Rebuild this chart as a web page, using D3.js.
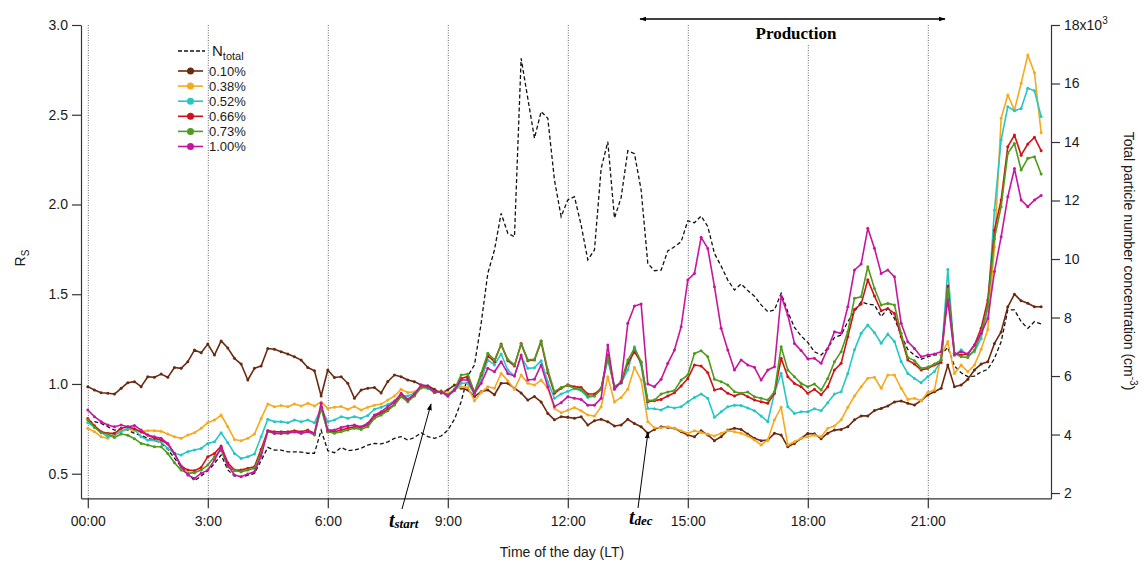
<!DOCTYPE html>
<html>
<head>
<meta charset="utf-8">
<script src="https://cdn.jsdelivr.net/npm/d3@7"></script>
<style>
  body { margin: 0; background: #fff; }
  svg { display: block; font-family: 'Liberation Sans', Arial, sans-serif; }
</style>
</head>
<body>
<svg id="chart" width="1146" height="563"></svg>
<script>
// samples every 10 minutes, 00:00 .. 23:50
const stepMin = 10;

const hourTicks = [0, 3, 6, 9, 12, 15, 18, 21];
const hourLabels = ['00:00', '3:00', '6:00', '9:00', '12:00', '15:00', '18:00', '21:00'];
const leftTicks = [0.5, 1.0, 1.5, 2.0, 2.5, 3.0];
const rightTicks = [2, 4, 6, 8, 10, 12, 14, 16, 18];

const seriesNames = ['0.10%', '0.38%', '0.52%', '0.66%', '0.73%', '1.00%'];
const seriesColors = ['#6b2a10', '#f7a91e', '#25c7c4', '#d0121b', '#4f9b1c', '#c6169f'];

// R_s, supersaturation 0.10 %
const r010 = [
  0.985, 0.966, 0.951, 0.948, 0.944, 0.976,
  1.007, 1.013, 0.985, 1.04, 1.037, 1.055,
  1.037, 1.092, 1.087, 1.124, 1.189, 1.174,
  1.222, 1.161, 1.24, 1.2, 1.143, 1.111,
  1.022, 1.087, 1.1, 1.198, 1.193, 1.18,
  1.167, 1.152, 1.133, 1.092, 1.074, 0.933,
  1.078, 1.036, 1.04, 1.004, 0.92, 0.966,
  0.976, 0.98, 0.95, 1.014, 1.05, 1.04,
  1.022, 1.013, 0.994, 0.99, 0.97, 0.95,
  0.967, 0.994, 0.976, 0.967, 0.93, 0.957,
  0.967, 0.94, 1.004, 1.004, 0.976, 0.95,
  0.91, 0.93, 0.9, 0.836, 0.8, 0.818,
  0.814, 0.809, 0.817, 0.771, 0.795, 0.803,
  0.79, 0.766, 0.771, 0.803, 0.78, 0.762,
  0.725, 0.747, 0.762, 0.758, 0.753, 0.734,
  0.716, 0.706, 0.74, 0.716, 0.684, 0.706,
  0.743, 0.753, 0.747, 0.721, 0.697, 0.684,
  0.688, 0.725, 0.716, 0.65, 0.669, 0.697,
  0.724, 0.722, 0.695, 0.726, 0.743, 0.747,
  0.762, 0.8, 0.822, 0.822, 0.852, 0.864,
  0.877, 0.9, 0.905, 0.892, 0.883, 0.907,
  0.939, 0.957, 0.976, 1.105, 0.985, 0.994,
  1.026, 1.078, 1.111, 1.124, 1.226, 1.29,
  1.43, 1.5, 1.463, 1.45, 1.43, 1.43
];

// 0.38 %
const r038 = [
  0.753, 0.734, 0.706, 0.697, 0.725, 0.74,
  0.749, 0.74, 0.736, 0.74, 0.74, 0.736,
  0.721, 0.706, 0.697, 0.715, 0.728, 0.753,
  0.784, 0.799, 0.827, 0.762, 0.691, 0.684,
  0.697, 0.721, 0.808, 0.888, 0.873, 0.88,
  0.873, 0.888, 0.877, 0.892, 0.877, 0.9,
  0.864, 0.87, 0.874, 0.859, 0.874, 0.855,
  0.87, 0.881, 0.888, 0.91, 0.933, 0.97,
  0.952, 0.957, 0.976, 0.981, 0.952, 0.963,
  0.944, 0.97, 0.985, 0.981, 0.907, 0.952,
  0.985, 0.976, 1.059, 1.018, 0.97, 1.05,
  1.004, 0.994, 1.022, 0.976, 0.864, 0.84,
  0.853, 0.869, 0.851, 0.827, 0.821, 0.873,
  1.04, 0.9, 0.925, 0.97, 1.093, 1.022,
  0.79, 0.756, 0.756, 0.762, 0.753, 0.74,
  0.725, 0.74, 0.729, 0.721, 0.71, 0.725,
  0.74, 0.734, 0.725, 0.71, 0.688, 0.66,
  0.688, 0.8, 0.87, 0.66, 0.678, 0.697,
  0.706, 0.714, 0.706, 0.753, 0.766, 0.8,
  0.87, 0.933, 0.985, 1.032, 1.037, 0.976,
  1.05, 1.05, 0.976, 0.914, 0.92, 0.907,
  0.952, 0.966, 1.161, 1.236, 1.059, 1.105,
  1.068, 1.105, 1.193, 1.304, 1.765, 2.48,
  2.61, 2.526, 2.675, 2.833, 2.734, 2.4
];

// 0.52 %
const r052 = [
  0.784, 0.762, 0.73, 0.706, 0.715, 0.734,
  0.753, 0.747, 0.706, 0.687, 0.687, 0.676,
  0.641, 0.613, 0.604, 0.623, 0.632, 0.641,
  0.669, 0.678, 0.728, 0.673, 0.613, 0.585,
  0.595, 0.61, 0.706, 0.803, 0.79, 0.79,
  0.784, 0.799, 0.79, 0.799, 0.784, 0.864,
  0.79, 0.799, 0.818, 0.809, 0.818, 0.809,
  0.825, 0.859, 0.87, 0.885, 0.907, 0.937,
  0.933, 0.948, 0.985, 0.974, 0.957, 0.957,
  0.933, 0.963, 1.004, 1.004, 0.944, 1.022,
  1.134, 1.106, 1.167, 1.078, 1.044, 1.152,
  1.087, 1.09, 1.13, 1.013, 0.92, 0.944,
  0.96, 0.973, 0.962, 0.925, 0.933, 0.975,
  1.133, 0.989, 1.004, 1.078, 1.208, 1.106,
  0.864, 0.862, 0.855, 0.873, 0.866, 0.873,
  0.9, 0.925, 0.944, 0.92, 0.814, 0.845,
  0.873, 0.882, 0.88, 0.866, 0.851, 0.821,
  0.79, 0.95, 1.06, 0.873, 0.836, 0.845,
  0.845, 0.862, 0.851, 0.896, 0.944, 0.957,
  1.059, 1.19, 1.282, 1.329, 1.286, 1.227,
  1.278, 1.236, 1.125, 1.059, 1.031, 1.007,
  1.041, 1.069, 1.133, 1.638, 1.161, 1.19,
  1.161, 1.18, 1.254, 1.43, 1.969, 2.36,
  2.545, 2.522, 2.535, 2.647, 2.634, 2.49
];

// 0.66 %
const r066 = [
  0.808, 0.767, 0.734, 0.725, 0.725, 0.753,
  0.762, 0.751, 0.732, 0.715, 0.697, 0.688,
  0.665, 0.613, 0.543, 0.52, 0.517, 0.535,
  0.595, 0.613, 0.654, 0.561, 0.52, 0.52,
  0.53, 0.539, 0.636, 0.74, 0.734, 0.734,
  0.734, 0.74, 0.734, 0.743, 0.725, 0.873,
  0.734, 0.734, 0.743, 0.753, 0.762, 0.758,
  0.771, 0.821, 0.836, 0.859, 0.888, 0.939,
  0.907, 0.939, 0.985, 0.985, 0.952, 0.957,
  0.939, 0.966, 1.031, 1.041, 0.952, 1.05,
  1.156, 1.124, 1.222, 1.13, 1.1, 1.226,
  1.13, 1.134, 1.236, 1.063, 0.948, 0.976,
  0.995, 0.985, 0.981, 0.944, 0.944, 0.975,
  1.161, 0.981, 1.007, 1.115, 1.18, 1.119,
  0.901, 0.907, 0.914, 0.933, 0.951, 0.989,
  1.031, 1.106, 1.1, 1.063, 0.966, 0.975,
  0.948, 0.933, 0.948, 0.929, 0.911, 0.901,
  0.892, 0.948, 1.143, 1.04, 1.003, 0.985,
  0.948, 0.97, 0.94, 0.985, 1.078, 1.115,
  1.263, 1.415, 1.445, 1.58, 1.49, 1.408,
  1.42, 1.393, 1.263, 1.133, 1.111, 1.078,
  1.087, 1.106, 1.119, 1.546, 1.171, 1.161,
  1.167, 1.217, 1.31, 1.468, 1.857, 2.025,
  2.322, 2.387, 2.275, 2.337, 2.374, 2.3
];

// 0.73 %
const r073 = [
  0.799, 0.758, 0.728, 0.721, 0.702, 0.721,
  0.714, 0.695, 0.669, 0.66, 0.65, 0.65,
  0.613, 0.561, 0.52, 0.502, 0.506, 0.52,
  0.548, 0.595, 0.632, 0.539, 0.517, 0.511,
  0.52, 0.53, 0.617, 0.734, 0.725, 0.725,
  0.725, 0.732, 0.725, 0.734, 0.715, 0.864,
  0.734, 0.725, 0.734, 0.743, 0.753, 0.747,
  0.762, 0.809, 0.827, 0.851, 0.883, 0.929,
  0.901, 0.933, 0.981, 0.981, 0.952, 0.957,
  0.937, 0.97, 1.05, 1.055, 0.952, 1.059,
  1.171, 1.134, 1.217, 1.137, 1.106, 1.222,
  1.134, 1.137, 1.241, 1.078, 0.957, 0.981,
  0.992, 0.976, 0.97, 0.933, 0.933, 0.97,
  1.152, 0.976, 1.013, 1.133, 1.198, 1.124,
  0.907, 0.91, 0.944, 0.955, 0.963, 1.022,
  1.05, 1.17, 1.185, 1.152, 1.026, 1.013,
  0.994, 0.957, 0.948, 0.955, 0.929, 0.92,
  0.911, 0.957, 1.208, 1.078, 1.04, 1.003,
  0.985, 1.0, 0.966, 1.031, 1.124, 1.18,
  1.291, 1.477, 1.486, 1.653, 1.532, 1.44,
  1.449, 1.44, 1.282, 1.148, 1.13, 1.087,
  1.093, 1.111, 1.133, 1.527, 1.171, 1.152,
  1.148, 1.189, 1.282, 1.43, 1.811, 1.988,
  2.285, 2.34, 2.192, 2.257, 2.266, 2.17
];

// 1.00 %
const r100 = [
  0.855, 0.818, 0.79, 0.771, 0.762, 0.771,
  0.762, 0.769, 0.743, 0.715, 0.706, 0.697,
  0.669, 0.613, 0.539, 0.493, 0.474, 0.502,
  0.52, 0.576, 0.647, 0.548, 0.493, 0.483,
  0.498, 0.511, 0.598, 0.74, 0.725, 0.725,
  0.728, 0.734, 0.725, 0.734, 0.725, 0.892,
  0.743, 0.743, 0.758, 0.766, 0.771, 0.762,
  0.781, 0.827, 0.845, 0.874, 0.901, 0.948,
  0.914, 0.944, 0.994, 0.985, 0.957, 0.957,
  0.933, 0.966, 1.022, 1.022, 0.948, 1.004,
  1.087, 1.068, 1.124, 1.059, 1.044, 1.161,
  1.022, 1.026, 1.106, 0.985, 0.874, 0.896,
  0.929, 0.92, 0.914, 0.882, 0.882, 0.92,
  1.217, 0.97, 1.013, 1.338, 1.434, 1.445,
  1.0, 0.985, 1.026, 1.115, 1.189, 1.319,
  1.579, 1.616, 1.817, 1.755, 1.542, 1.31,
  1.189, 1.078, 1.134, 1.106, 1.093, 1.022,
  1.078, 1.096, 1.49, 1.384, 1.226, 1.186,
  1.14, 1.143, 1.115, 1.198, 1.291, 1.282,
  1.43, 1.635, 1.668, 1.867, 1.756, 1.616,
  1.635, 1.597, 1.338, 1.235, 1.198, 1.152,
  1.161, 1.167, 1.18, 1.468, 1.161, 1.18,
  1.167, 1.217, 1.282, 1.365, 1.626, 1.82,
  2.043, 2.2, 2.025, 1.988, 2.025, 2.05
];

// total particle number concentration, 10^3 cm^-3 (right axis)
const nTotal = [
  4.44, 4.44, 4.38, 4.27, 4.15, 4.2,
  4.15, 4.04, 3.97, 3.87, 3.81, 3.7,
  3.49, 3.19, 2.9, 2.67, 2.42, 2.58,
  2.76, 3.01, 3.3, 2.79, 2.58, 2.56,
  2.6, 2.67, 3.11, 3.56, 3.47, 3.47,
  3.41, 3.41, 3.4, 3.36, 3.36, 4.15,
  3.45, 3.38, 3.56, 3.45, 3.47, 3.53,
  3.64, 3.7, 3.68, 3.75, 3.87, 3.93,
  3.81, 3.9, 4.06, 3.93, 3.87, 3.95,
  4.15, 4.52, 5.12, 6.0, 6.38, 7.8,
  9.51, 10.31, 11.56, 10.88, 10.76, 16.86,
  15.49, 14.13, 15.04, 14.81, 12.7, 11.45,
  12.02, 12.13, 11.16, 9.97, 10.31, 13.09,
  14.01, 11.4, 12.1, 13.7, 13.6, 12.36,
  9.85, 9.6, 9.62, 10.28, 10.42, 10.59,
  11.31, 11.24, 11.47, 11.11, 10.19, 9.76,
  9.28, 8.94, 9.15, 8.92, 8.73, 8.43,
  8.2, 8.26, 8.83, 8.2, 7.66, 7.37,
  7.15, 6.83, 6.72, 6.95, 7.32, 7.4,
  7.86, 8.2, 8.54, 8.46, 8.43, 8.03,
  8.31, 7.97, 7.4, 6.91, 6.71, 6.57,
  6.66, 6.72, 6.72, 6.98, 6.34, 6.11,
  5.98, 6.0, 6.14, 6.23, 6.6, 7.17,
  8.26, 8.26, 7.86, 7.63, 7.86, 7.78
];

const rSeries = [r010, r038, r052, r066, r073, r100];

const svg = d3.select('#chart');
svg.append('rect').attr('width', 1146).attr('height', 563).attr('fill', '#fff');

const x = d3.scaleLinear().domain([-0.17, 24.08]).range([81, 1051]);
const yL = d3.scaleLinear().domain([0.363, 3.0]).range([498.3, 25]);
const yR = d3.scaleLinear().domain([1.82, 18]).range([498.3, 25]);
const hourOf = (i) => (i * stepMin) / 60;

// arrow heads
const defs = svg.append('defs');
defs.append('marker')
  .attr('id', 'head')
  .attr('viewBox', '0 0 10 10')
  .attr('refX', 9).attr('refY', 5)
  .attr('markerWidth', 7).attr('markerHeight', 7)
  .attr('markerUnits', 'userSpaceOnUse')
  .attr('orient', 'auto-start-reverse')
  .append('path').attr('d', 'M0,1.5L10,5L0,8.5Z').attr('fill', '#000');

// dotted hour grid
svg.append('g')
  .selectAll('line')
  .data(hourTicks)
  .enter()
  .append('line')
  .attr('x1', (d) => x(d) + 0.5)
  .attr('x2', (d) => x(d) + 0.5)
  .attr('y1', 25)
  .attr('y2', 498)
  .attr('stroke', '#666')
  .attr('stroke-width', 1)
  .attr('stroke-dasharray', '1,1.5');

// axes
const styleAxis = (g) => {
  g.attr('font-family', null).attr('font-size', 14);
  g.selectAll('text').attr('fill', '#1a1a1a');
  g.selectAll('path, line').attr('stroke', '#333').attr('stroke-width', 1.2);
};

svg.append('g')
  .attr('transform', 'translate(81,0)')
  .call(d3.axisLeft(yL).tickValues(leftTicks).tickFormat(d3.format('.1f')).tickSize(9).tickSizeOuter(0).tickPadding(4))
  .call(styleAxis);

svg.append('g')
  .attr('transform', 'translate(0,498.3)')
  .call(d3.axisBottom(x).tickValues(hourTicks).tickFormat((d, i) => hourLabels[i]).tickSize(10).tickSizeOuter(0).tickPadding(8))
  .call(styleAxis);

const rightAxis = svg.append('g')
  .attr('transform', 'translate(1051,0)')
  .call(d3.axisRight(yR).tickValues(rightTicks).tickFormat((d) => (d === 18 ? '18x10' : d)).tickSize(9).tickSizeOuter(0).tickPadding(4))
  .call(styleAxis);
rightAxis.selectAll('.tick text')
  .filter((d) => d === 18)
  .append('tspan')
  .attr('font-size', 10)
  .attr('dy', '-0.6em')
  .text('3');

// axis titles
svg.append('text')
  .attr('transform', 'translate(25,258) rotate(-90)')
  .attr('text-anchor', 'middle')
  .attr('font-size', 14)
  .attr('fill', '#1a1a1a')
  .text('R')
  .append('tspan').attr('font-size', 10).attr('dy', 4).text('S');

const rTitle = svg.append('text')
  .attr('transform', 'translate(1124,261) rotate(90)')
  .attr('text-anchor', 'middle')
  .attr('font-size', 14)
  .attr('fill', '#1a1a1a');
rTitle.append('tspan').text('Total particle number concentration (cm');
rTitle.append('tspan').attr('font-size', 10).attr('dy', -6).text('-3');
rTitle.append('tspan').attr('dy', 6).text(')');

svg.append('text')
  .attr('x', 562)
  .attr('y', 557)
  .attr('text-anchor', 'middle')
  .attr('font-size', 14)
  .attr('fill', '#1a1a1a')
  .text('Time of the day (LT)');

// N_total dashed line (right axis)
const nLine = d3.line()
  .x((d, i) => x(hourOf(i)))
  .y((d) => yR(d));

svg.append('path')
  .datum(nTotal)
  .attr('fill', 'none')
  .attr('stroke', '#111')
  .attr('stroke-width', 1.3)
  .attr('stroke-dasharray', '4,2.5')
  .attr('d', nLine);

// R_s series
const rLine = d3.line()
  .x((d, i) => x(hourOf(i)))
  .y((d) => yL(d));

rSeries.forEach((values, k) => {
  const g = svg.append('g');
  g.append('path')
    .datum(values)
    .attr('fill', 'none')
    .attr('stroke', seriesColors[k])
    .attr('stroke-width', 1.6)
    .attr('stroke-linejoin', 'round')
    .attr('d', rLine);
  g.selectAll('circle')
    .data(values)
    .enter()
    .append('circle')
    .attr('cx', (d, i) => x(hourOf(i)))
    .attr('cy', (d) => yL(d))
    .attr('r', 1.5)
    .attr('fill', seriesColors[k]);
});

// legend
const legend = svg.append('g');
legend.append('line')
  .attr('x1', 178).attr('x2', 205)
  .attr('y1', 51).attr('y2', 51)
  .attr('stroke', '#111')
  .attr('stroke-width', 1.3)
  .attr('stroke-dasharray', '4,2');
legend.append('text')
  .attr('x', 212).attr('y', 56)
  .attr('font-size', 15)
  .attr('fill', '#1a1a1a')
  .text('N')
  .append('tspan').attr('font-size', 11).attr('dy', 4).text('total');

seriesNames.forEach((name, k) => {
  const ly = 71 + k * 15.1;
  legend.append('line')
    .attr('x1', 178).attr('x2', 203)
    .attr('y1', ly).attr('y2', ly)
    .attr('stroke', seriesColors[k])
    .attr('stroke-width', 1.6);
  legend.append('circle')
    .attr('cx', 190.5).attr('cy', ly)
    .attr('r', 3.5)
    .attr('fill', seriesColors[k]);
  legend.append('text')
    .attr('x', 209).attr('y', ly + 4.5)
    .attr('font-size', 13)
    .attr('fill', '#1a1a1a')
    .text(name);
});

// production period
svg.append('rect')
  .attr('x', 752).attr('y', 24)
  .attr('width', 88).attr('height', 20)
  .attr('fill', '#fff');
svg.append('line')
  .attr('x1', 640).attr('x2', 945)
  .attr('y1', 19).attr('y2', 19)
  .attr('stroke', '#000')
  .attr('stroke-width', 1.4)
  .attr('marker-start', 'url(#head)')
  .attr('marker-end', 'url(#head)');
svg.append('text')
  .attr('x', 796).attr('y', 39)
  .attr('text-anchor', 'middle')
  .attr('font-family', "'Liberation Serif', 'Times New Roman', serif")
  .attr('font-weight', 'bold')
  .attr('font-size', 17)
  .text('Production');

// t_start and t_dec markers
const tNotes = [
  { sub: 'start', tx: 389, ty: 527, x1: 402, y1: 509, x2: 431, y2: 404 },
  { sub: 'dec', tx: 629, ty: 524, x1: 638, y1: 508, x2: 648, y2: 432 }
];
tNotes.forEach((n) => {
  svg.append('line')
    .attr('x1', n.x1).attr('y1', n.y1)
    .attr('x2', n.x2).attr('y2', n.y2)
    .attr('stroke', '#000')
    .attr('stroke-width', 1)
    .attr('marker-end', 'url(#head)');
  const tt = svg.append('text')
    .attr('x', n.tx).attr('y', n.ty)
    .attr('font-family', "'Liberation Serif', 'Times New Roman', serif")
    .attr('font-weight', 'bold')
    .attr('font-style', 'italic')
    .attr('font-size', 20)
    .text('t');
  tt.append('tspan').attr('font-size', 13).attr('dy', 1).text(n.sub);
});
</script>
</body>
</html>
